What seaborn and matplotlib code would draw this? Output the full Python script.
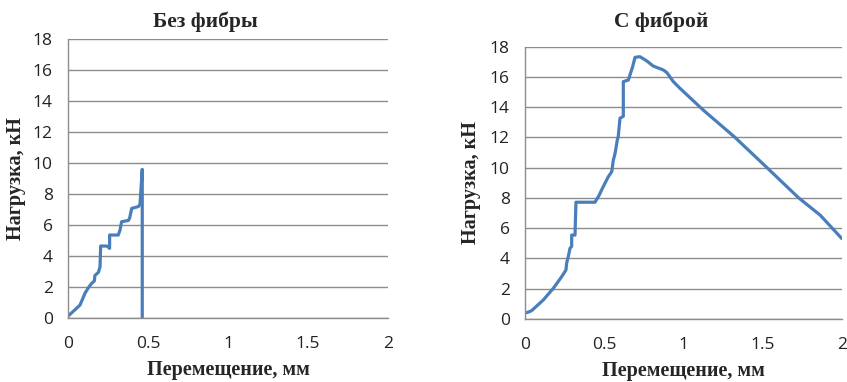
import matplotlib
matplotlib.use("Agg")
import matplotlib.pyplot as plt
import seaborn as sns
import pandas as pd

# --- data ---
titles = ["Без фибры", "С фиброй"]
x_label = "Перемещение, мм"
y_label = "Нагрузка, кН"

x_no_fiber = [0.0, 0.008, 0.04, 0.075, 0.09, 0.106, 0.13, 0.148, 0.165, 0.168, 0.19, 0.2, 0.204,
              0.242, 0.26, 0.26, 0.314, 0.325, 0.335, 0.377, 0.385, 0.398, 0.44, 0.45, 0.464, 0.464]
y_no_fiber = [0.1, 0.2, 0.5, 0.84, 1.2, 1.6, 2.0, 2.24, 2.4, 2.75, 2.95, 3.3, 4.65,
              4.65, 4.5, 5.36, 5.36, 5.68, 6.22, 6.3, 6.45, 7.08, 7.2, 7.35, 9.6, 0.0]

x_fiber = [0.0, 0.02, 0.042, 0.116, 0.179, 0.232, 0.259, 0.263, 0.278, 0.284, 0.295, 0.295,
           0.316, 0.322, 0.442, 0.463, 0.474, 0.484, 0.505, 0.526, 0.548, 0.558, 0.569,
           0.583, 0.589, 0.6, 0.621, 0.621, 0.653, 0.663, 0.68, 0.695, 0.726, 0.768, 0.81,
           0.874, 0.895, 0.916, 0.937, 0.979, 1.126, 1.327, 1.527, 1.727, 1.864, 2.0]
y_fiber = [0.4, 0.45, 0.55, 1.26, 2.03, 2.8, 3.24, 3.68, 4.34, 4.67, 4.8, 5.55,
           5.55, 7.72, 7.72, 8.08, 8.3, 8.53, 8.97, 9.4, 9.74, 10.5, 10.95,
           11.83, 12.05, 13.27, 13.4, 15.69, 15.8, 16.13, 16.68, 17.3, 17.34, 17.07, 16.72,
           16.46, 16.3, 16.0, 15.69, 15.25, 13.81, 12.0, 10.02, 8.02, 6.87, 5.33]

x_ticks = [0, 0.5, 1, 1.5, 2]
x_tick_labels = ["0", "0.5", "1", "1.5", "2"]
y_ticks = [0, 2, 4, 6, 8, 10, 12, 14, 16, 18]

sns.set_theme(style="white")
plt.rcParams["font.family"] = ["Open Sans", "DejaVu Sans"]

line_color = "#4A7EBB"
grid_color = "#8C8C8C"

fig = plt.figure(figsize=(8.47, 3.82), dpi=100)
axes = [fig.add_axes([0.0803, 0.1675, 0.3778, 0.7295]),
        fig.add_axes([0.6198, 0.1649, 0.3739, 0.7128])]
title_x = [0.43, 0.43]
title_pad = [9, 14.3]
ylabel_x = [-0.131, -0.139]

datasets = [pd.DataFrame({"x": x_no_fiber, "y": y_no_fiber}),
            pd.DataFrame({"x": x_fiber, "y": y_fiber})]

serif = ["Liberation Serif", "DejaVu Serif"]
for ax, df, title, tx, tp, yx in zip(axes, datasets, titles, title_x, title_pad, ylabel_x):
    sns.lineplot(data=df, x="x", y="y", ax=ax, estimator=None, sort=False,
                 color=line_color, linewidth=2.3)
    ax.set_xlim(0, 2)
    ax.set_ylim(0, 18)
    ax.set_xticks(x_ticks)
    ax.set_xticklabels(x_tick_labels)
    ax.set_yticks(y_ticks)
    ax.yaxis.grid(True, color=grid_color, linewidth=1.0)
    ax.xaxis.grid(False)
    ax.set_axisbelow(True)
    for s in ["top", "right"]:
        ax.spines[s].set_visible(False)
    for s in ["left", "bottom"]:
        ax.spines[s].set_color(grid_color)
        ax.spines[s].set_linewidth(1.0)
    ax.tick_params(axis="both", which="major", direction="out", length=4,
                   width=1.0, color=grid_color, labelsize=12.5, labelcolor="#222222")
    ax.tick_params(axis="x", pad=9)
    ax.tick_params(axis="y", pad=7)
    ax.set_title(title, fontfamily=serif, fontweight="bold", fontsize=15.5, x=tx, pad=tp)
    ax.set_xlabel(x_label, fontfamily=serif, fontweight="bold", fontsize=14.5, labelpad=6)
    ax.set_ylabel(y_label, fontfamily=serif, fontweight="bold", fontsize=14.5)
    ax.yaxis.set_label_coords(yx, 0.5)

fig.savefig("out.png", dpi=100)
